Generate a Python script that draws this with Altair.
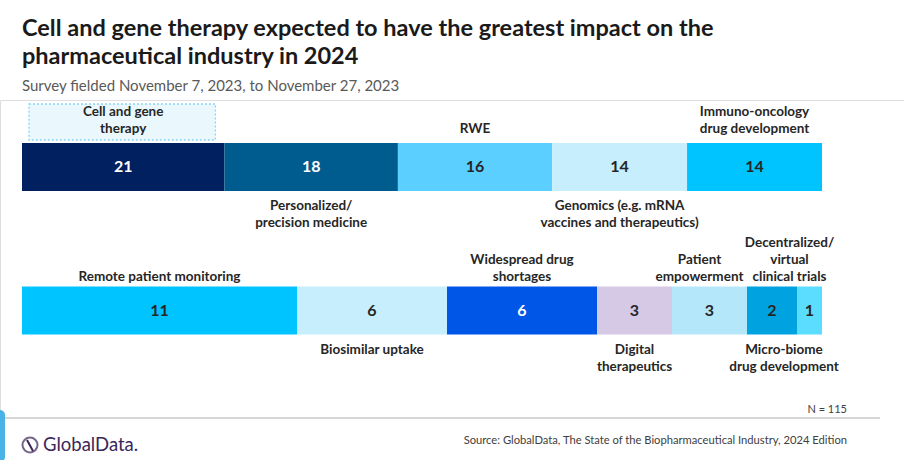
import altair as alt
import pandas as pd

TITLE = ["Cell and gene therapy expected to have the greatest impact on the",
         "pharmaceutical industry in 2024"]
SUBTITLE = "Survey fielded November 7, 2023, to November 27, 2023"
N_TEXT = "N = 115"
SOURCE = "Source: GlobalData, The State of the Biopharmaceutical Industry, 2024 Edition"
BRAND = "GlobalData."

top_labels = ["Cell and gene\ntherapy", "Personalized/\nprecision medicine", "RWE",
              "Genomics (e.g. mRNA\nvaccines and therapeutics)", "Immuno-oncology\ndrug development"]
top_values = [21, 18, 16, 14, 14]
top_colors = ["#002060", "#005B8F", "#5BCFFF", "#C6EEFC", "#00C4FF"]

bottom_labels = ["Remote patient monitoring", "Biosimilar uptake", "Widespread drug\nshortages",
                 "Digital\ntherapeutics", "Patient\nempowerment", "Micro-biome\ndrug development",
                 "Decentralized/\nvirtual\nclinical trials"]
bottom_values = [11, 6, 6, 3, 3, 2, 1]
bottom_colors = ["#00C4FF", "#C6EEFC", "#0057E7", "#D6C9E6", "#B5E7FB", "#00A3E0", "#5BDDFF"]

white_text = ["Cell and gene\ntherapy", "Personalized/\nprecision medicine", "Widespread drug\nshortages"]
highlight = "Cell and gene\ntherapy"

rows = []
for r, (labs, vals) in enumerate([(top_labels, top_values), (bottom_labels, bottom_values)]):
    for i, (l, v) in enumerate(zip(labs, vals)):
        rows.append({"row": r, "order": i, "label": l, "value": v})
df = pd.DataFrame(rows)

FONT = "Lato"
TXT = "#262626"
LBL_SIZE = 13.5
LINE_H = 17

xs = alt.Scale(domain=[0, 1], range=[22, 822], nice=False, zero=False)
ys = alt.Scale(domain=[0, 1], range=[67, 210.5], nice=False, zero=False)
cs = alt.Scale(domain=top_labels + bottom_labels, range=top_colors + bottom_colors)

base = (
    alt.Chart(df)
    .transform_joinaggregate(total="sum(value)", groupby=["row"])
    .transform_stack(stack="value", as_=["s0", "s1"], groupby=["row"],
                     sort=[alt.SortField("order", order="ascending")])
    .transform_calculate(
        p0="datum.s0 / datum.total",
        p1="datum.s1 / datum.total",
        mid="(datum.s0 + datum.s1) / 2 / datum.total",
    )
)

X0 = alt.X("p0:Q", scale=xs, axis=None)
X1 = alt.X2("p1:Q")
XM = alt.X("mid:Q", scale=xs, axis=None)
Y = alt.Y("row:Q", scale=ys, axis=None)
Y2 = alt.Y2("row:Q")

box = base.transform_filter(alt.datum.label == highlight).mark_rect(
    fill="#EAF8FE", stroke="#86D5F5", strokeDash=[2, 2], strokeWidth=1.3,
    xOffset=7, x2Offset=-9, yOffset=-63, y2Offset=-27,
).encode(x=X0, x2=X1, y=Y, y2=Y2)

bars = base.mark_rect(yOffset=-24, y2Offset=24).encode(
    x=X0, x2=X1, y=Y, y2=Y2,
    color=alt.Color("label:N", scale=cs, legend=None),
    tooltip=[alt.Tooltip("label:N"), alt.Tooltip("value:Q")],
)

nums = base.mark_text(font=FONT, fontSize=16, fontWeight="bold", baseline="middle", align="center").encode(
    x=XM, y=Y, text=alt.Text("value:Q"),
    color=alt.condition(alt.FieldOneOfPredicate(field="label", oneOf=white_text),
                        alt.value("white"), alt.value(TXT)),
)

# small horizontal nudges to keep crowded labels apart
nudged = {"Patient\nempowerment": -10, "Micro-biome\ndrug development": 12,
          "Decentralized/\nvirtual\nclinical trials": -20}
above_dy = {0: -31, 1: -27}
below_dy = 32

lab_layers = []
for row, labs in [(0, top_labels), (1, bottom_labels)]:
    for i, lab in enumerate(labs):
        n = lab.count("\n") + 1
        if i % 2 == 0:
            dy, bl = above_dy[row] - (n - 1) * LINE_H, "bottom"
        else:
            dy, bl = below_dy, "top"
        lab_layers.append(
            base.transform_filter((alt.datum.label == lab) & (alt.datum.row == row)).mark_text(
                font=FONT, fontSize=LBL_SIZE, fontWeight="bold", color=TXT, baseline=bl,
                align="center", dy=dy, dx=nudged.get(lab, 0), lineBreak="\n", lineHeight=LINE_H,
            ).encode(x=XM, y=Y, text="label:N")
        )

one = pd.DataFrame({"k": [0]})
rule = alt.Chart(one).mark_rule(color="#C8C8C8", strokeWidth=1.5).encode(
    x=alt.value(5), x2=alt.value(880), y=alt.value(318))
tab = alt.Chart(one).mark_rect(color="#4AB3E5", cornerRadius=5).encode(
    x=alt.value(-6), x2=alt.value(5), y=alt.value(310), y2=alt.value(362))
ntext = alt.Chart(pd.DataFrame({"t": [N_TEXT]})).mark_text(
    font=FONT, fontSize=11, color="#404040", align="right", baseline="middle").encode(
    x=alt.value(847), y=alt.value(310), text="t:N")
src = alt.Chart(pd.DataFrame({"t": [SOURCE]})).mark_text(
    font=FONT, fontSize=11.2, color="#404040", align="right", baseline="middle").encode(
    x=alt.value(847), y=alt.value(341), text="t:N")
brand = alt.Chart(pd.DataFrame({"t": [BRAND]})).mark_text(
    font=FONT, fontSize=18.5, color="#3B2759", align="left", baseline="middle").encode(
    x=alt.value(43), y=alt.value(345), text="t:N")
icon = alt.Chart(one).mark_point(shape="circle", size=225, filled=False, stroke="#3B2759",
                                 strokeWidth=2).encode(x=alt.value(30), y=alt.value(345))
slash = alt.Chart(one).mark_rule(color="#3B2759", strokeWidth=2).encode(
    x=alt.value(27), x2=alt.value(33), y=alt.value(340), y2=alt.value(351))

chart = alt.layer(box, bars, nums, *lab_layers, rule, tab, ntext, src, brand, icon, slash).properties(
    width=904, height=360,
    padding={"left": 0, "top": 100, "right": 0, "bottom": 0},
    autosize=alt.AutoSizeParams(type="none"),
    title=alt.TitleParams(
        text=TITLE, subtitle=SUBTITLE, anchor="start", frame="group", dx=22,
        font=FONT, fontSize=23.5, fontWeight="bold", color="#1A1A1A", lineHeight=28,
        subtitleFont=FONT, subtitleFontSize=15, subtitleColor="#595959", subtitlePadding=11,
        offset=6,
    ),
).configure_view(stroke=None).configure(background="white")

chart.save("out.html", embed_options={"renderer": "svg", "actions": False})
